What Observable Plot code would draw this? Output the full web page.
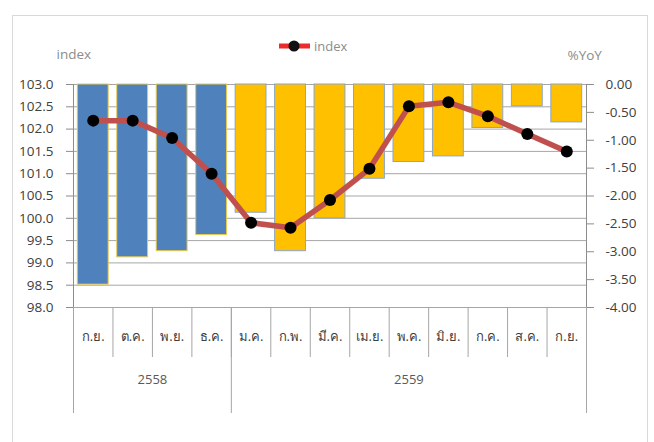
<!DOCTYPE html>
<html>
<head>
<meta charset="utf-8">
<script src="https://cdn.jsdelivr.net/npm/d3@7"></script>
<script src="https://cdn.jsdelivr.net/npm/@observablehq/plot@0.6"></script>
<style>
  html, body { margin: 0; padding: 0; background: #fff; }
  #wrap { position: relative; width: 654px; height: 442px; overflow: hidden; font-family: "Open Sans", "Noto Sans", "DejaVu Sans", sans-serif; }
  #frame { position: absolute; left: 12px; top: 15px; width: 634px; height: 440px; border: 1px solid #D9D9D9; border-bottom: none; }
  #legend { position: absolute; left: 279px; top: 37px; display: flex; align-items: center; gap: 4px; color: #8C8C8C; font-size: 13px; }
  #chart { position: absolute; left: 0; top: 0; }
</style>
</head>
<body>
<div id="wrap">
  <div id="frame"></div>
  <div id="chart"></div>
  <div id="legend"><svg width="31" height="14"><line x1="0" y1="7" x2="31" y2="7" stroke="#EE2B2B" stroke-width="5"/><circle cx="15" cy="7" r="5.5" fill="#111"/></svg><span>index</span></div>
</div>
<script>
// ---- data ----
const months = ["ก.ย.","ต.ค.","พ.ย.","ธ.ค.","ม.ค.","ก.พ.","มี.ค.","เม.ย.","พ.ค.","มิ.ย.","ก.ค.","ส.ค.","ก.ย."];
const years  = ["2558","2558","2558","2558","2559","2559","2559","2559","2559","2559","2559","2559","2559"];
const indexValues = [102.19, 102.19, 101.80, 101.00, 99.90, 99.79, 100.41, 101.11, 102.51, 102.60, 102.29, 101.89, 101.50];
const yoyValues   = [-3.59, -3.10, -2.99, -2.70, -2.30, -2.99, -2.40, -1.69, -1.39, -1.29, -0.78, -0.39, -0.68];
const leftTicks  = [98.0, 98.5, 99.0, 99.5, 100.0, 100.5, 101.0, 101.5, 102.0, 102.5, 103.0];
const rightTicks = [0.00, -0.50, -1.00, -1.50, -2.00, -2.50, -3.00, -3.50, -4.00];
const yearColors = {"2558": "#4F81BD", "2559": "#FFC000"};
const yearStroke = {"2558": "#E9CB4E", "2559": "#8AA6C4"};

// secondary axis (%YoY, 0 .. -4) mapped onto primary axis (103 .. 98)
const leftMin = 98, leftMax = 103, rightMin = -4, rightMax = 0;
const toLeft = v => leftMin + (v - rightMin) * (leftMax - leftMin) / (rightMax - rightMin);
const toRight = v => rightMin + (v - leftMin) * (rightMax - rightMin) / (leftMax - leftMin);

const data = months.map((m, i) => ({i, month: m, year: years[i], idx: indexValues[i], yoy: yoyValues[i]}));

// year groups
const yearGroups = [];
years.forEach((y, i) => {
  const g = yearGroups[yearGroups.length - 1];
  if (g && g.year === y) g.end = i + 1; else yearGroups.push({year: y, start: i, end: i + 1});
});
const yearBounds = Array.from(new Set(yearGroups.flatMap(g => [g.start, g.end])));

const mt = 84, mb = 135, H = 442;
const frameH = H - mt - mb;

const chart = Plot.plot({
  width: 654,
  height: H,
  marginLeft: 73,
  marginRight: 68,
  marginTop: mt,
  marginBottom: mb,
  style: {fontFamily: '"Open Sans", "Noto Sans", "DejaVu Sans", sans-serif', fontSize: "13px", background: "transparent", overflow: "visible"},
  x: {type: "linear", domain: [0, months.length], axis: null},
  y: {domain: [leftMin, leftMax], axis: null},
  marks: [
    Plot.ruleY(leftTicks, {stroke: "#A6A6A6", strokeWidth: 1}),
    Plot.rectY(data, {
      x1: d => d.i, x2: d => d.i + 1,
      y1: () => toLeft(rightMax), y2: d => toLeft(d.yoy),
      fill: d => yearColors[d.year], stroke: d => yearStroke[d.year], strokeWidth: 1,
      insetLeft: 4.3, insetRight: 4.3
    }),
    Plot.ruleX([0, months.length], {stroke: "#8C8C8C"}),
    Plot.ruleX(d3.range(months.length + 1), {stroke: "#A6A6A6", insetTop: frameH, insetBottom: -50}),
    Plot.ruleX(yearBounds, {stroke: "#A6A6A6", insetTop: frameH, insetBottom: -106}),
    Plot.axisY({ticks: leftTicks, tickFormat: d => d.toFixed(1), tickSize: 7, tickPadding: 13, stroke: "#8C8C8C", fill: "#404040", fontSize: 13.5, label: null}),
    Plot.axisY({anchor: "right", ticks: rightTicks.map(toLeft), tickFormat: v => { const r = toRight(v); return (Math.abs(r) < 1e-9 ? 0 : r).toFixed(2); }, tickSize: 7, tickPadding: 12, textAnchor: "start", stroke: "#8C8C8C", fill: "#404040", fontSize: 13.5, label: null}),
    Plot.line(data, {x: d => d.i + 0.5, y: "idx", stroke: "#C0504D", strokeWidth: 5.5}),
    Plot.dot(data, {x: d => d.i + 0.5, y: "idx", r: 6, fill: "#000"}),
    Plot.text(data, {x: d => d.i + 0.5, text: "month", frameAnchor: "bottom", dy: 33, fill: "#404040", fontSize: 13}),
    Plot.text(yearGroups, {x: d => (d.start + d.end) / 2, text: "year", frameAnchor: "bottom", dy: 76, fill: "#595959", fontSize: 13}),
    Plot.text(["index"], {frameAnchor: "top-left", text: d => d, dx: -17, dy: -35, textAnchor: "start", fill: "#8C8C8C", fontSize: 13.5}),
    Plot.text(["%YoY"], {frameAnchor: "top-right", text: d => d, dx: -19, dy: -34, textAnchor: "start", fill: "#8C8C8C", fontSize: 13.5})
  ]
});
document.getElementById("chart").appendChild(chart);
</script>
</body>
</html>
